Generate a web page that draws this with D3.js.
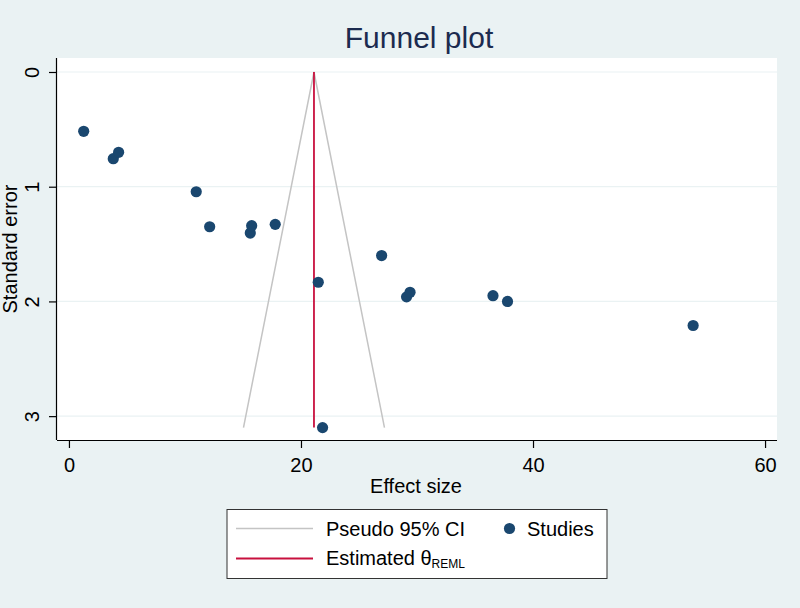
<!DOCTYPE html>
<html>
<head>
<meta charset="utf-8">
<script src="https://cdn.jsdelivr.net/npm/d3@7"></script>
<style>
  html, body { margin: 0; padding: 0; background: #eaf2f3; }
  svg { display: block; font-family: "Liberation Sans", Arial, sans-serif; }
</style>
</head>
<body>
<svg id="chart" width="800" height="608"></svg>
<script>
// ---- Data ----
const effectSize = [1.27, 3.82, 4.28, 10.97, 12.13, 15.63, 15.75, 17.78, 21.49, 26.95, 29.1, 29.4, 36.55, 37.8, 53.8, 21.86];
const standardError = [0.517, 0.756, 0.70, 1.044, 1.349, 1.404, 1.34, 1.328, 1.833, 1.60, 1.96, 1.92, 1.95, 2.00, 2.21, 3.10];
const thetaREML = 21.12;
const maxSE = 3.1;
const xTicks = [0, 20, 40, 60];
const yTicks = [0, 1, 2, 3];
const titleText = "Funnel plot";
const xLabel = "Effect size";
const yLabel = "Standard error";

// ---- Layout ----
const svg = d3.select("#chart");
const W = 800, H = 608;
const plot = { left: 57, right: 777, top: 58, bottom: 440 };
const FONT = "Liberation Sans, Arial, sans-serif";

svg.append("rect").attr("width", W).attr("height", H).attr("fill", "#eaf2f3");
svg.append("rect")
  .attr("x", plot.left).attr("y", plot.top)
  .attr("width", plot.right - plot.left).attr("height", plot.bottom - plot.top)
  .attr("fill", "#ffffff");

const x = d3.scaleLinear().domain([-1.03, 61.03]).range([plot.left, plot.right]);
const y = d3.scaleLinear().domain([-0.122, 3.208]).range([plot.top, plot.bottom]);

// gridlines
svg.append("g").selectAll("line").data(yTicks).join("line")
  .attr("x1", plot.left).attr("x2", plot.right)
  .attr("y1", d => y(d)).attr("y2", d => y(d))
  .attr("stroke", "#eaf2f3").attr("stroke-width", 1.2);

// funnel (pseudo 95% CI)
const funnel = [
  [thetaREML - 1.96 * maxSE, maxSE],
  [thetaREML, 0],
  [thetaREML + 1.96 * maxSE, maxSE]
];
svg.append("path")
  .attr("d", d3.line().x(d => x(d[0])).y(d => y(d[1]))(funnel))
  .attr("fill", "none").attr("stroke", "#c4c4c4").attr("stroke-width", 1.5);

// estimated theta line
svg.append("line")
  .attr("x1", x(thetaREML)).attr("x2", x(thetaREML))
  .attr("y1", y(0)).attr("y2", y(maxSE))
  .attr("stroke", "#c8103e").attr("stroke-width", 1.8);

// points
const pts = effectSize.map((e, i) => ({ e, s: standardError[i] }));
svg.append("g").selectAll("circle").data(pts).join("circle")
  .attr("cx", d => x(d.e)).attr("cy", d => y(d.s)).attr("r", 5.6)
  .attr("fill", "#1a476f");

// axes
const xAxis = d3.axisBottom(x).tickValues(xTicks).tickSize(8).tickFormat(d3.format("d"));
const gx = svg.append("g").attr("transform", `translate(0,${plot.bottom})`).call(xAxis);
gx.select(".domain").attr("d", `M${plot.left},0.5H${plot.right}`).attr("stroke", "#000").attr("stroke-width", 1.2);
gx.selectAll(".tick line").attr("stroke", "#000").attr("stroke-width", 1.2);
gx.selectAll(".tick text").attr("font-size", 20).attr("fill", "#000")
  .attr("font-family", FONT).attr("y", 31.7).attr("dy", null);

const yAxis = d3.axisLeft(y).tickValues(yTicks).tickSize(8).tickFormat(d3.format("d"));
const gy = svg.append("g").attr("transform", `translate(${plot.left},0)`).call(yAxis);
gy.select(".domain").attr("d", `M-0.5,${plot.top}V${plot.bottom}`).attr("stroke", "#000").attr("stroke-width", 1.2);
gy.selectAll(".tick line").attr("stroke", "#000").attr("stroke-width", 1.2);
gy.selectAll(".tick text")
  .attr("font-size", 20).attr("fill", "#000")
  .attr("font-family", FONT)
  .attr("x", null).attr("dy", null)
  .attr("text-anchor", "middle")
  .attr("transform", "translate(-18.5,0) rotate(-90)");

// axis titles
svg.append("text").attr("x", (plot.left + plot.right) / 2 - 1).attr("y", 492.7)
  .attr("text-anchor", "middle").attr("font-size", 20).attr("fill", "#000").text(xLabel);
svg.append("text")
  .attr("transform", `translate(16.5,${(plot.top + plot.bottom) / 2}) rotate(-90)`)
  .attr("text-anchor", "middle").attr("font-size", 20).attr("fill", "#000").text(yLabel);

// title
svg.append("text").attr("x", (plot.left + plot.right) / 2 + 2).attr("y", 48.3)
  .attr("text-anchor", "middle").attr("font-size", 30).attr("fill", "#1c2b4f").text(titleText);

// legend
const lg = svg.append("g");
lg.append("rect").attr("x", 227).attr("y", 509.5).attr("width", 380).attr("height", 69)
  .attr("fill", "#fff").attr("stroke", "#333").attr("stroke-width", 1);
lg.append("line").attr("x1", 236).attr("x2", 313).attr("y1", 528.5).attr("y2", 528.5)
  .attr("stroke", "#c4c4c4").attr("stroke-width", 1.5);
lg.append("text").attr("x", 326).attr("y", 536).attr("font-size", 20).attr("fill", "#000").text("Pseudo 95% CI");
lg.append("circle").attr("cx", 509.5).attr("cy", 528.5).attr("r", 5.6).attr("fill", "#1a476f");
lg.append("text").attr("x", 527).attr("y", 536).attr("font-size", 20).attr("fill", "#000").text("Studies");
lg.append("line").attr("x1", 236).attr("x2", 313).attr("y1", 558.5).attr("y2", 558.5)
  .attr("stroke", "#c8103e").attr("stroke-width", 1.8);
const t2 = lg.append("text").attr("x", 326).attr("y", 565).attr("font-size", 20).attr("fill", "#000");
t2.append("tspan").text("Estimated θ");
t2.append("tspan").attr("font-size", 12).attr("dy", 3).text("REML");
</script>
</body>
</html>
